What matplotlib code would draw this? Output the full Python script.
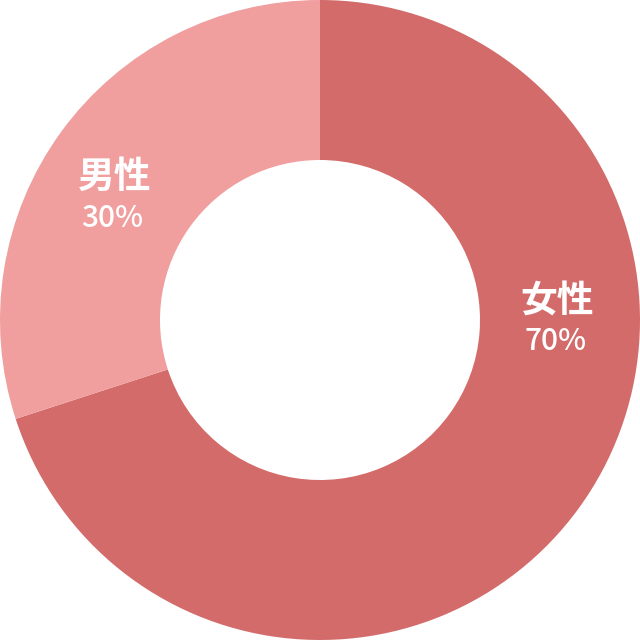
import matplotlib
matplotlib.use("Agg")
import matplotlib.pyplot as plt

plt.rcParams["font.family"] = ["Noto Sans CJK JP", "DejaVu Sans"]

labels = ["女性", "男性"]
shares = [70, 30]
colors = ["#d46b6b", "#f09e9e"]

# where each label sits (axes data coords, radius 1 donut)
label_pos = [(0.741, 0.06), (-0.643, 0.445)]

fig = plt.figure(figsize=(6.4, 6.4), dpi=100)
ax = fig.add_axes([0, 0, 1, 1])

ax.pie(shares, colors=colors, startangle=90, counterclock=False,
       radius=1.0, wedgeprops=dict(width=0.5, linewidth=0))

for name, val, (x, y) in zip(labels, shares, label_pos):
    ax.text(x, y, name, ha="center", va="center", color="white",
            fontsize=26.5, fontweight="bold")
    ax.text(x - 0.005, y - 0.128, "{}%".format(val), ha="center", va="center",
            color="white", fontsize=21.5, fontweight="medium")

ax.set_xlim(-1, 1)
ax.set_ylim(-1, 1)
ax.set_aspect("equal")
ax.axis("off")

plt.savefig("out.png", dpi=100)
